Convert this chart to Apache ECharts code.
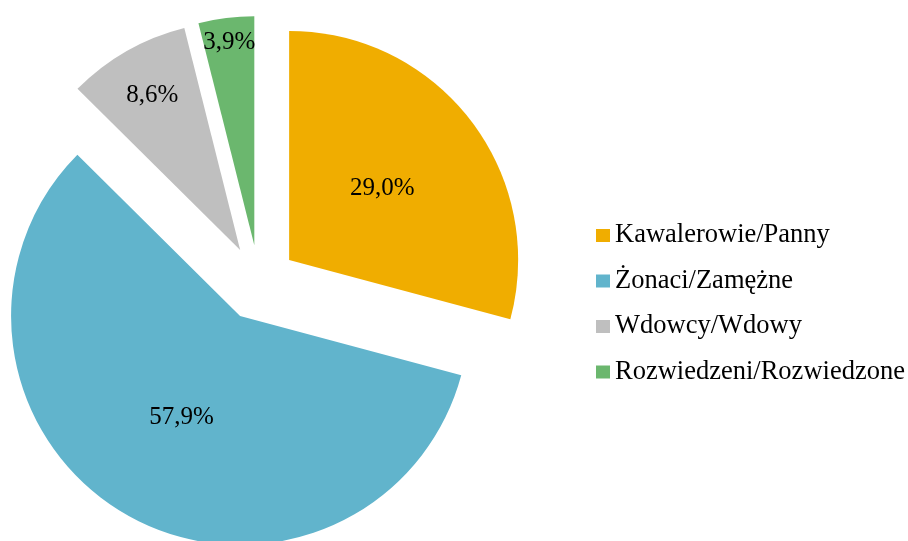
<!DOCTYPE html>
<html>
<head>
<meta charset="utf-8">
<script src="https://cdn.jsdelivr.net/npm/echarts@6/dist/echarts.min.js"></script>
<style>
  html, body { margin: 0; padding: 0; background: #fff; }
  #chart { width: 908px; height: 541px; }
</style>
</head>
<body>
<div id="chart"></div>
<script>
// dane
var categories = ['Kawalerowie/Panny', 'Żonaci/Zamężne', 'Wdowcy/Wdowy', 'Rozwiedzeni/Rozwiedzone'];
var values = [29.0, 57.9, 8.6, 3.9];
var colors = ['#F0AD00', '#61B4CC', '#BFBFBF', '#6BB76E'];
// extra radial push of the label for small slices (px)
var labelPush = [0, 0, 60, 87];

var total = values.reduce(function (a, b) { return a + b; }, 0);
var midAngles = [];
var acc = 0;
values.forEach(function (v) {
    var mid = (acc + v / 2) / total * 2 * Math.PI;
    midAngles.push(mid);
    acc += v;
});

var font = "'Liberation Serif', 'Times New Roman', serif";
var chart = echarts.init(document.getElementById('chart'));

var option = {
    animation: false,
    color: colors,
    legend: {
        orient: 'vertical',
        left: 596,
        top: 222,
        padding: 0,
        icon: 'rect',
        itemWidth: 14,
        itemHeight: 13,
        itemGap: 18.5,
        selectedMode: false,
        textStyle: { fontFamily: font, fontSize: 26.5, color: '#000' },
        data: categories
    },
    series: [{
        type: 'pie',
        center: [259, 283],
        radius: [0, 229],
        startAngle: 90,
        clockwise: true,
        selectedMode: 'multiple',
        selectedOffset: 38,
        avoidLabelOverlap: false,
        label: {
            show: true,
            position: 'inside',
            fontFamily: font,
            fontSize: 25,
            color: '#000',
            formatter: function (p) {
                return p.value.toFixed(1).replace('.', ',') + '%';
            }
        },
        labelLine: { show: false },
        labelLayout: function (p) {
            var k = labelPush[p.dataIndex];
            var a = midAngles[p.dataIndex];
            return { dx: k * Math.sin(a), dy: -k * Math.cos(a) };
        },
        emphasis: { disabled: true },
        itemStyle: { borderWidth: 0 },
        data: categories.map(function (c, i) {
            return { name: c, value: values[i], selected: true };
        })
    }]
};

chart.setOption(option);
</script>
</body>
</html>
